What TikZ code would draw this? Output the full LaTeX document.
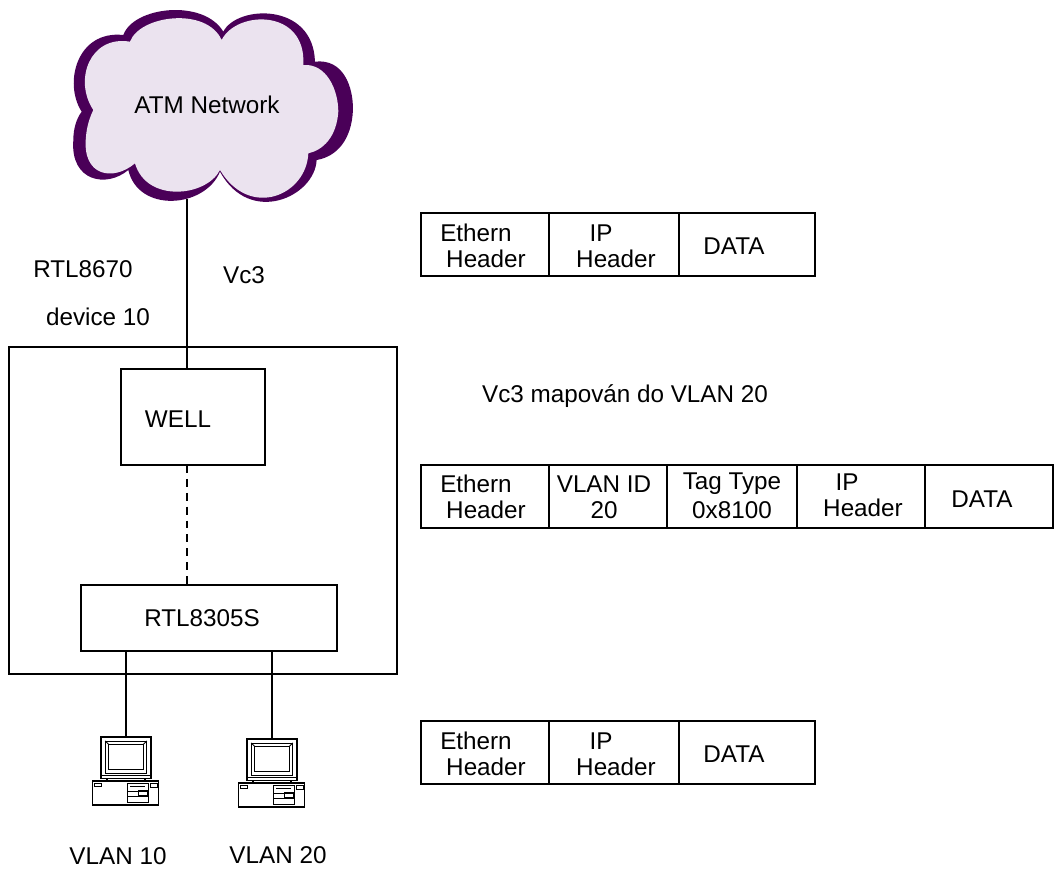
\documentclass[tikz,border=0pt]{standalone}
\usepackage{fontspec}
\setmainfont{Liberation Sans}
\definecolor{cloudedge}{HTML}{4A0058}
\definecolor{cloudfill}{HTML}{EBE3EF}
\tikzset{
  txt/.style={inner sep=0pt,font=\fontsize{13.8}{15}\selectfont},
  box/.style={draw,line width=0.7pt,inner sep=0pt,outer sep=0pt},
  cell/.style={box,minimum height=1.26cm},
  computer/.pic={
    % monitor
    \node[draw,line width=0.9pt,inner sep=0pt,outer sep=0pt,minimum width=1cm,minimum height=0.83cm,anchor=north] (-mon) at (0,0) {};
    \draw[line width=0.5pt] (-20.8,4) rectangle (20.8,36.7);
    \draw[line width=0.7pt] (-17.5,7.3) rectangle (17.5,32.7);
    \draw[line width=0.5pt] (-20.8,4) -- (-17.5,7.3) (20.8,4) -- (17.5,7.3);
    \draw[line width=0.5pt] (-25,38.3) -- (25,38.3);
    \draw[line width=0.8pt] (-19,41.7) -- (-19,44) (19,41.7) -- (19,44);
    % base unit
    \draw[line width=0.9pt] (-33.3,44) rectangle (32.7,67.7);
    \draw[line width=0.5pt] (-31.3,46.7) rectangle (-25,49);
    \draw[line width=0.5pt] (1,46.7) rectangle (22.7,65.7);
    \draw[line width=0.5pt] (1,54.3) -- (22.7,54.3) (1,59) -- (22.7,59);
    \draw[line width=0.9pt] (4.3,49.3) -- (19.3,49.3);
    \draw[line width=0.5pt] (12.7,53.3) rectangle (21,58.3);
    \draw[line width=0.5pt] (24.3,46.7) rectangle (31,50);
  }
}
\begin{document}
\begin{tikzpicture}[x=0.02cm,y=-0.02cm]
  \useasboundingbox (0,0) rectangle (1055,870);

  % Cloud
  \begin{scope}[shift={(50,0)},scale=0.3333]
    \fill[cloudedge] (220,105) .. controls (250,20) and (460,-5) .. (520,95)
      .. controls (560,15) and (790,5) .. (795,185)
      .. controls (880,175) and (910,260) .. (909,330)
      .. controls (905,420) and (860,470) .. (800,480)
      .. controls (795,590) and (600,680) .. (510,515)
      .. controls (465,625) and (265,640) .. (235,510)
      .. controls (170,565) and (60,545) .. (70,420)
      .. controls (70,385) and (80,355) .. (95,335)
      .. controls (40,250) and (80,90) .. (220,105) -- cycle;
    \fill[cloudfill] (240,125) .. controls (270,45) and (470,20) .. (515,120)
      .. controls (560,30) and (770,25) .. (760,195)
      .. controls (830,190) and (865,270) .. (865,335)
      .. controls (860,410) and (820,450) .. (775,460)
      .. controls (770,585) and (600,660) .. (510,510)
      .. controls (470,590) and (290,610) .. (255,490)
      .. controls (190,545) and (95,530) .. (108,410)
      .. controls (110,380) and (120,350) .. (130,330)
      .. controls (70,240) and (120,105) .. (240,125) -- cycle;
  \end{scope}
  \node[txt] (atmlabel) at (207,105) {ATM Network};
  \coordinate (atm) at (187,199);

  % Device
  \node[box,minimum width=7.76cm,minimum height=6.54cm,anchor=north west] (device) at (9,347) {};
  \node[box,minimum width=2.88cm,minimum height=1.92cm,anchor=north west] (well) at (121,369) {};
  \node[box,minimum width=5.12cm,minimum height=1.32cm,anchor=north west] (rtl) at (81,585) {};
  \node[txt] (welllabel) at (178,419) {WELL};
  \node[txt] (rtllabel) at (202,618) {RTL8305S};

  % Computers
  \pic (pca) at (126,737) {computer};
  \pic (pcb) at (272,739) {computer};

  % Connectors
  \draw[box] (atm) -- (atm |- well.north);
  \draw[box,dash pattern=on 4.5pt off 3.4pt] (atm |- well.south) -- (atm |- rtl.north);
  \draw[box] (pca-mon.north |- rtl.south) -- (pca-mon.north);
  \draw[box] (pcb-mon.north |- rtl.south) -- (pcb-mon.north);

  % Labels
  \node[txt] (chip) at (83,269) {RTL8670};
  \node[txt] (devlabel) at (98,317) {device 10};
  \node[txt] (vc) at (244,275) {Vc3};
  \node[txt] (maplabel) at (625,396) {Vc3 mapován do VLAN 20};
  \node[txt] (vlana) at (118,856) {VLAN 10};
  \node[txt] (vlanb) at (278,855) {VLAN 20};

  % Untagged frames
  \foreach \yy in {213,721} {
    \node[cell,minimum width=2.56cm,anchor=north west] (eth\yy) at (421,\yy) {};
    \node[cell,minimum width=2.6cm,anchor=west] (ip\yy) at (eth\yy.east) {};
    \node[cell,minimum width=2.72cm,anchor=west] (data\yy) at (ip\yy.east) {};
    \node[txt] (etha\yy) at (476,\yy+20) {Ethern};
    \node[txt] (ethb\yy) at (486,\yy+46) {Header};
    \node[txt] (ipa\yy) at (601,\yy+20) {IP};
    \node[txt] (ipb\yy) at (616,\yy+46) {Header};
    \node[txt] (dt\yy) at (734,\yy+33) {DATA};
  }

  % Tagged frame
  \node[cell,minimum width=2.56cm,anchor=north west] (eth) at (421,465) {};
  \node[cell,minimum width=2.36cm,anchor=west] (vid) at (eth.east) {};
  \node[cell,minimum width=2.6cm,anchor=west] (tag) at (vid.east) {};
  \node[cell,minimum width=2.56cm,anchor=west] (ip) at (tag.east) {};
  \node[cell,minimum width=2.56cm,anchor=west] (data) at (ip.east) {};
  \node[txt] (etha) at (476,484) {Ethern};
  \node[txt] (ethb) at (486,510) {Header};
  \node[txt] (vida) at (604,484) {VLAN ID};
  \node[txt] (vidb) at (604,510) {20};
  \node[txt] (taga) at (732,484) {Tag Type};
  \node[txt] (tagb) at (732,510) {0x8100};
  \node[txt] (ipa) at (847,482) {IP};
  \node[txt] (ipb) at (863,508) {Header};
  \node[txt] (dt) at (982,499) {DATA};
\end{tikzpicture}
\end{document}
